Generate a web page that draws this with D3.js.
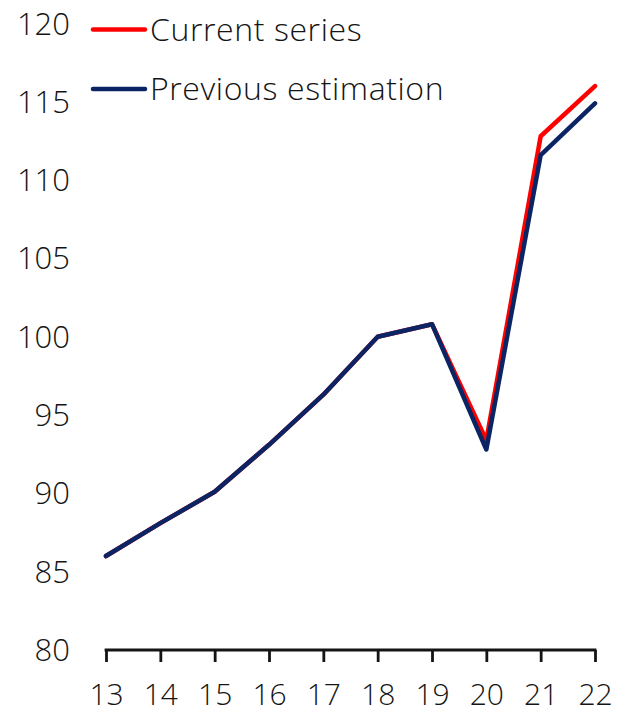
<!DOCTYPE html>
<html>
<head>
<meta charset="utf-8">
<script src="https://cdn.jsdelivr.net/npm/d3@7"></script>
<style>
  html, body { margin: 0; padding: 0; background: #fff; }
  svg text { font-family: "Open Sans", Lato, sans-serif; fill: #141414; }
</style>
</head>
<body>
<svg id="chart" width="618" height="714"></svg>
<script>
// Years (two-digit) on the horizontal axis
const years = ["13", "14", "15", "16", "17", "18", "19", "20", "21", "22"];
// Index values, base year 18 = 100
const currentSeries = [86.0, 88.1, 90.1, 93.1, 96.3, 100.0, 100.8, 93.4, 112.8, 116.0];
const previousEstimation = [86.0, 88.1, 90.1, 93.1, 96.3, 100.0, 100.8, 92.8, 111.6, 114.9];
const yTicks = [80, 85, 90, 95, 100, 105, 110, 115, 120];
const seriesNames = ["Current series", "Previous estimation"];
const seriesColors = ["#ff0000", "#0a2464"];

const svg = d3.select("#chart");
const plotLeft = 106, plotRight = 595, plotTop = 23.5, plotBottom = 650;
const fontSize = 31;

const x = d3.scalePoint().domain(years).range([plotLeft, plotRight]);
const y = d3.scaleLinear().domain([80, 120]).range([plotBottom, plotTop]);

// Y tick labels, right aligned, no axis line
svg.append("g").selectAll("text")
  .data(yTicks)
  .join("text")
  .attr("x", 70)
  .attr("y", d => y(d))
  .attr("dy", "0.355em")
  .attr("text-anchor", "end")
  .attr("font-size", fontSize)
  .attr("font-weight", 300)
  .text(d => d);

// X axis
const xAxis = svg.append("g")
  .attr("transform", `translate(0,${plotBottom})`)
  .call(d3.axisBottom(x).tickSize(12).tickPadding(22).tickSizeOuter(0));
xAxis.select(".domain").attr("stroke", "#141414").attr("stroke-width", 2.8)
  .attr("d", `M${plotLeft - 1.4},0H${plotRight + 1.4}`);
xAxis.selectAll(".tick line").attr("stroke", "#141414").attr("stroke-width", 2.8);
xAxis.selectAll(".tick text")
  .attr("font-size", 30)
  .attr("font-weight", 300)
  .attr("fill", "#141414")
  .attr("font-family", '"Open Sans", Lato, sans-serif');

// Lines: current series underneath, previous estimation on top
const line = d3.line().x((d, i) => x(years[i])).y(d => y(d));
[currentSeries, previousEstimation].forEach((vals, k) => {
  svg.append("path")
    .datum(vals)
    .attr("fill", "none")
    .attr("stroke", seriesColors[k])
    .attr("stroke-width", 4.5)
    .attr("stroke-linejoin", "round")
    .attr("stroke-linecap", "round")
    .attr("d", line);
});

// Legend
const legend = svg.append("g");
seriesNames.forEach((name, k) => {
  const ly = 29.5 + k * 59.5;
  legend.append("line")
    .attr("x1", 93).attr("x2", 145)
    .attr("y1", ly).attr("y2", ly)
    .attr("stroke", seriesColors[k])
    .attr("stroke-width", 4.5)
    .attr("stroke-linecap", "round");
  legend.append("text")
    .attr("x", 150).attr("y", ly + 11)
    .attr("font-size", 32)
    .attr("font-weight", 300)
    .attr("letter-spacing", 0.6)
    .text(name);
});
</script>
</body>
</html>
